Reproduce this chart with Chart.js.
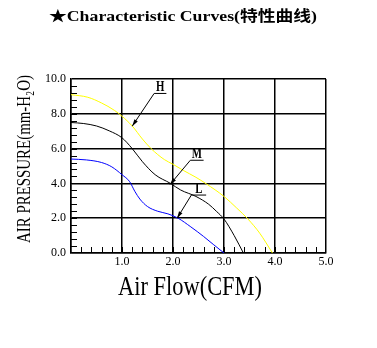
<!DOCTYPE html>
<html><head><meta charset="utf-8">
<script src="https://cdn.jsdelivr.net/npm/chart.js@4.4.1/dist/chart.umd.min.js"></script>
<style>html,body{margin:0;padding:0;background:#fff;overflow:hidden}canvas{display:block}</style>
</head><body>
<canvas id="c" width="377" height="348"></canvas>
<script>
const titleText = '★Characteristic Curves(特性曲线)';
const xAxisTitle = 'Air Flow(CFM)';
const yAxisTitle = 'AIR PRESSURE(mm-H₂O)';
const xTickValues = [0, 1, 2, 3, 4, 5];
const xTickLabels = ['', '1.0', '2.0', '3.0', '4.0', '5.0'];
const yTickValues = [0, 2, 4, 6, 8, 10];
const yTickLabels = ['0.0', '2.0', '4.0', '6.0', '8.0', '10.0'];

const seriesNames = ['H', 'M', 'L'];
const seriesColors = ['#FFFF00', '#000000', '#0000FF'];
const hFlow     = [0, 0.33, 0.6, 0.85, 1.0, 1.2, 1.4, 1.57, 1.83, 2.0, 2.2, 2.45, 2.65, 3.0, 3.25, 3.47, 3.7, 3.95];
const hPressure = [9.1, 8.95, 8.62, 8.2, 7.86, 7.3, 6.55, 6.0, 5.37, 5.1, 4.75, 4.35, 3.98, 3.25, 2.58, 1.95, 1.14, 0];
const mFlow     = [0, 0.25, 0.5, 0.75, 1.0, 1.2, 1.4, 1.65, 1.95, 2.15, 2.45, 2.7, 2.85, 3.0, 3.2, 3.38];
const mPressure = [7.5, 7.44, 7.3, 7.02, 6.62, 6.0, 5.25, 4.5, 4.0, 3.62, 3.25, 2.8, 2.4, 1.95, 1.0, 0];
const lFlow     = [0, 0.3, 0.6, 0.8, 1.0, 1.15, 1.25, 1.35, 1.5, 1.7, 1.9, 2.1, 2.35, 2.6, 2.8, 3.0];
const lPressure = [5.4, 5.35, 5.2, 4.95, 4.5, 4.1, 3.55, 3.1, 2.67, 2.4, 2.25, 2.0, 1.5, 0.95, 0.47, 0];

const labelNames   = ['H', 'M', 'L'];
const labelStartX  = [1.63, 2.34, 2.36];
const labelEndX    = [1.87, 2.60, 2.65];
const labelLineY   = [9.17, 5.33, 3.33];
const arrowTipX    = [1.20, 1.94, 2.08];
const arrowTipY    = [7.29, 3.93, 2.00];

const flows = [hFlow, mFlow, lFlow];
const pressures = [hPressure, mPressure, lPressure];

const datasets = seriesNames.map((n, i) => ({
  label: n,
  data: flows[i].map((x, k) => ({x: x, y: pressures[i][k]})),
  borderColor: seriesColors[i],
  backgroundColor: seriesColors[i],
  borderWidth: 1,
  pointRadius: 0,
  fill: false,
  cubicInterpolationMode: 'monotone'
}));

function fitText(ctx, text, font, cx, baseY, width, sy, rotate) {
  ctx.save();
  ctx.font = font;
  const w = ctx.measureText(text).width;
  ctx.translate(cx, baseY);
  if (rotate) ctx.rotate(-Math.PI / 2);
  ctx.scale(width / w, sy);
  ctx.fillText(text, 0, 0);
  ctx.restore();
}

const decor = {
  id: 'decor',
  afterDatasetsDraw(chart) {
    const ctx = chart.ctx, xs = chart.scales.x, ys = chart.scales.y, a = chart.chartArea;
    ctx.save();
    ctx.strokeStyle = '#000'; ctx.lineWidth = 1;
    ctx.beginPath();
    for (let i = 1; i < 25; i++) {
      const py = Math.round(ys.getPixelForValue(i * 0.4)) + 0.5;
      ctx.moveTo(a.left, py); ctx.lineTo(a.left + 6, py);
    }
    for (let i = 1; i < 25; i++) {
      const px = Math.round(xs.getPixelForValue(i * 0.2)) + 0.5;
      ctx.moveTo(px, a.bottom); ctx.lineTo(px, a.bottom - 6);
    }
    ctx.stroke();
    ctx.font = 'bold 12px "Liberation Serif"';
    ctx.textAlign = 'center'; ctx.textBaseline = 'alphabetic';
    ctx.fillStyle = '#000';
    for (let i = 0; i < labelNames.length; i++) {
      const sx = xs.getPixelForValue(labelStartX[i]);
      const ex = xs.getPixelForValue(labelEndX[i]);
      const ly = ys.getPixelForValue(labelLineY[i]);
      const tx = xs.getPixelForValue(arrowTipX[i]);
      const ty = ys.getPixelForValue(arrowTipY[i]);
      ctx.beginPath();
      ctx.moveTo(ex, ly); ctx.lineTo(sx, ly); ctx.lineTo(tx, ty);
      ctx.stroke();
      const ang = Math.atan2(ty - ly, tx - sx);
      const L = 7, W = 2;
      ctx.beginPath();
      ctx.moveTo(tx, ty);
      ctx.lineTo(tx - L * Math.cos(ang) + W * Math.sin(ang), ty - L * Math.sin(ang) - W * Math.cos(ang));
      ctx.lineTo(tx - L * Math.cos(ang) - W * Math.sin(ang), ty - L * Math.sin(ang) + W * Math.cos(ang));
      ctx.closePath(); ctx.fill();
      ctx.save();
      ctx.translate((sx + ex) / 2, ly - 2); ctx.scale(0.9, 1.15);
      ctx.fillText(labelNames[i], 0, 0);
      ctx.restore();
    }
    ctx.restore();
  },
  afterDraw(chart) {
    const ctx = chart.ctx;
    ctx.save();
    ctx.fillStyle = '#000';
    ctx.textAlign = 'center'; ctx.textBaseline = 'alphabetic';
    fitText(ctx, titleText, 'bold 15px "Liberation Serif", "Noto Sans CJK SC"', 183, 20.5, 268, 1.0, false);
    fitText(ctx, xAxisTitle, '22px "Liberation Serif"', 190, 295, 144, 1.22, false);
    fitText(ctx, yAxisTitle, '14.5px "Liberation Serif"', 29.5, 159, 168, 1.3, true);
    ctx.restore();
  }
};

new Chart(document.getElementById('c'), {
  type: 'line',
  data: { datasets: datasets },
  options: {
    responsive: false,
    animation: false,
    devicePixelRatio: 1,
    layout: { padding: { top: 79, right: 51, bottom: 0, left: 0 } },
    plugins: { legend: { display: false }, tooltip: { enabled: false }, title: { display: false } },
    scales: {
      x: {
        type: 'linear', min: 0, max: 5,
        afterFit(s) { s.height = 95; },
        afterBuildTicks(s) { s.ticks = xTickValues.map(v => ({ value: v })); },
        ticks: {
          callback: (v, i) => xTickLabels[i],
          font: { family: 'Liberation Serif', size: 12 },
          color: '#000', padding: 2, maxRotation: 0, autoSkip: false
        },
        grid: { color: '#000', lineWidth: 1.5, drawTicks: false },
        border: { color: '#000', width: 1.5 }
      },
      y: {
        type: 'linear', min: 0, max: 10,
        afterFit(s) { s.width = 71; },
        afterBuildTicks(s) { s.ticks = yTickValues.map(v => ({ value: v })); },
        ticks: {
          callback: (v, i) => yTickLabels[i],
          font: { family: 'Liberation Serif', size: 12 },
          color: '#000', padding: 5, autoSkip: false
        },
        grid: { color: '#000', lineWidth: 1.5, drawTicks: false },
        border: { color: '#000', width: 1.5 }
      }
    }
  },
  plugins: [decor]
});
</script>
</body></html>
